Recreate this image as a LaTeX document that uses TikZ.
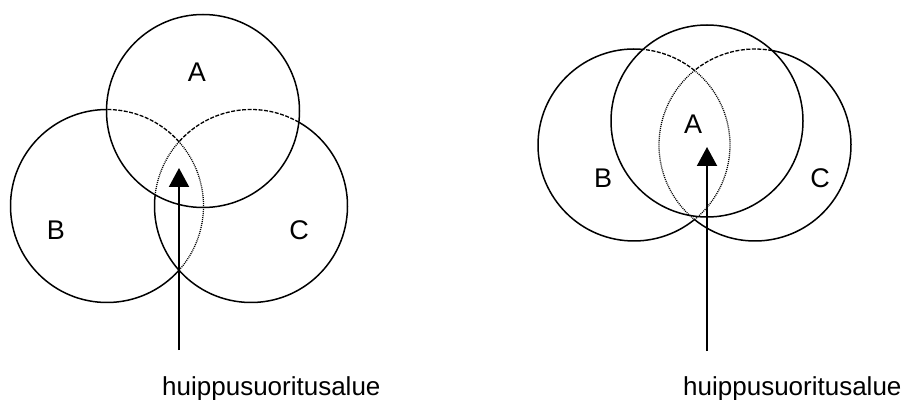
\documentclass[tikz,border=0pt]{standalone}
\usepackage{fontspec}
\setmainfont{Liberation Sans}
\usetikzlibrary{arrows.meta}
\begin{document}
\begin{tikzpicture}[x=1pt,y=1pt,
  solidarc/.style={line width=1.5pt},
  dasharc/.style={line width=1.3pt, dash pattern=on 4pt off 1.5pt},
  dotarc/.style={line width=1.3pt, dash pattern=on 1pt off 1pt},
  pointer/.style={line width=2pt, -{Triangle[length=19pt,width=20pt]}},
  letter/.style={font=\fontsize{27}{27}\selectfont, inner sep=0pt},
  caption/.style={font=\fontsize{26}{26}\selectfont, inner sep=0pt, anchor=base west}]
\useasboundingbox (0,0) rectangle (907,399);

% ---------- left diagram ----------
% circle A
\draw[solidarc] (203,288) circle[radius=96.5];
% circle B
\draw[solidarc,shift={(107,193)}] (90.3:96.5) arc[start angle=90.3,end angle=318.3,radius=96.5];
\draw[dasharc,shift={(107,193)}] (41.7:96.5) arc[start angle=41.7,end angle=90.3,radius=96.5];
\draw[dotarc,shift={(107,193)}] (-41.7:96.5) arc[start angle=-41.7,end angle=41.7,radius=96.5];
% circle C
\draw[solidarc,shift={(251,193)}] (173.3:96.5) arc[start angle=173.3,end angle=420.3,radius=96.5];
\draw[dasharc,shift={(251,193)}] (60.3:96.5) arc[start angle=60.3,end angle=138.3,radius=96.5];
\draw[dotarc,shift={(251,193)}] (138.3:96.5) arc[start angle=138.3,end angle=173.3,radius=96.5];

\node[letter] (lA1) at (197,327) {A};
\node[letter] (lB1) at (56,169) {B};
\node[letter] (lC1) at (299,169) {C};

\coordinate (base1) at (179,49);
\coordinate (tip1) at (179,231);
\draw[pointer] (base1) -- (tip1);
\node[caption] (cap1) at (162,4) {huippusuoritusalue};

% ---------- right diagram ----------
% circle A
\draw[solidarc] (707,278) circle[radius=96];
% circle B
\draw[solidarc,shift={(634,254)}] (84.6:96) arc[start angle=84.6,end angle=309.1,radius=96];
\draw[dasharc,shift={(634,254)}] (50.9:96) arc[start angle=50.9,end angle=84.6,radius=96];
\draw[dotarc,shift={(634,254)}] (-50.9:96) arc[start angle=-50.9,end angle=50.9,radius=96];
% circle C
\draw[solidarc,shift={(755,254)}] (230.9:96) arc[start angle=230.9,end angle=439.7,radius=96];
\draw[dasharc,shift={(755,254)}] (79.7:96) arc[start angle=79.7,end angle=129.1,radius=96];
\draw[dotarc,shift={(755,254)}] (129.1:96) arc[start angle=129.1,end angle=230.9,radius=96];

\node[letter] (lA2) at (693,275) {A};
\node[letter] (lB2) at (603,221) {B};
\node[letter] (lC2) at (820,221) {C};

\coordinate (base2) at (707,48);
\coordinate (tip2) at (707,252);
\draw[pointer] (base2) -- (tip2);
\node[caption] (cap2) at (683,4) {huippusuoritusalue};
\end{tikzpicture}
\end{document}
